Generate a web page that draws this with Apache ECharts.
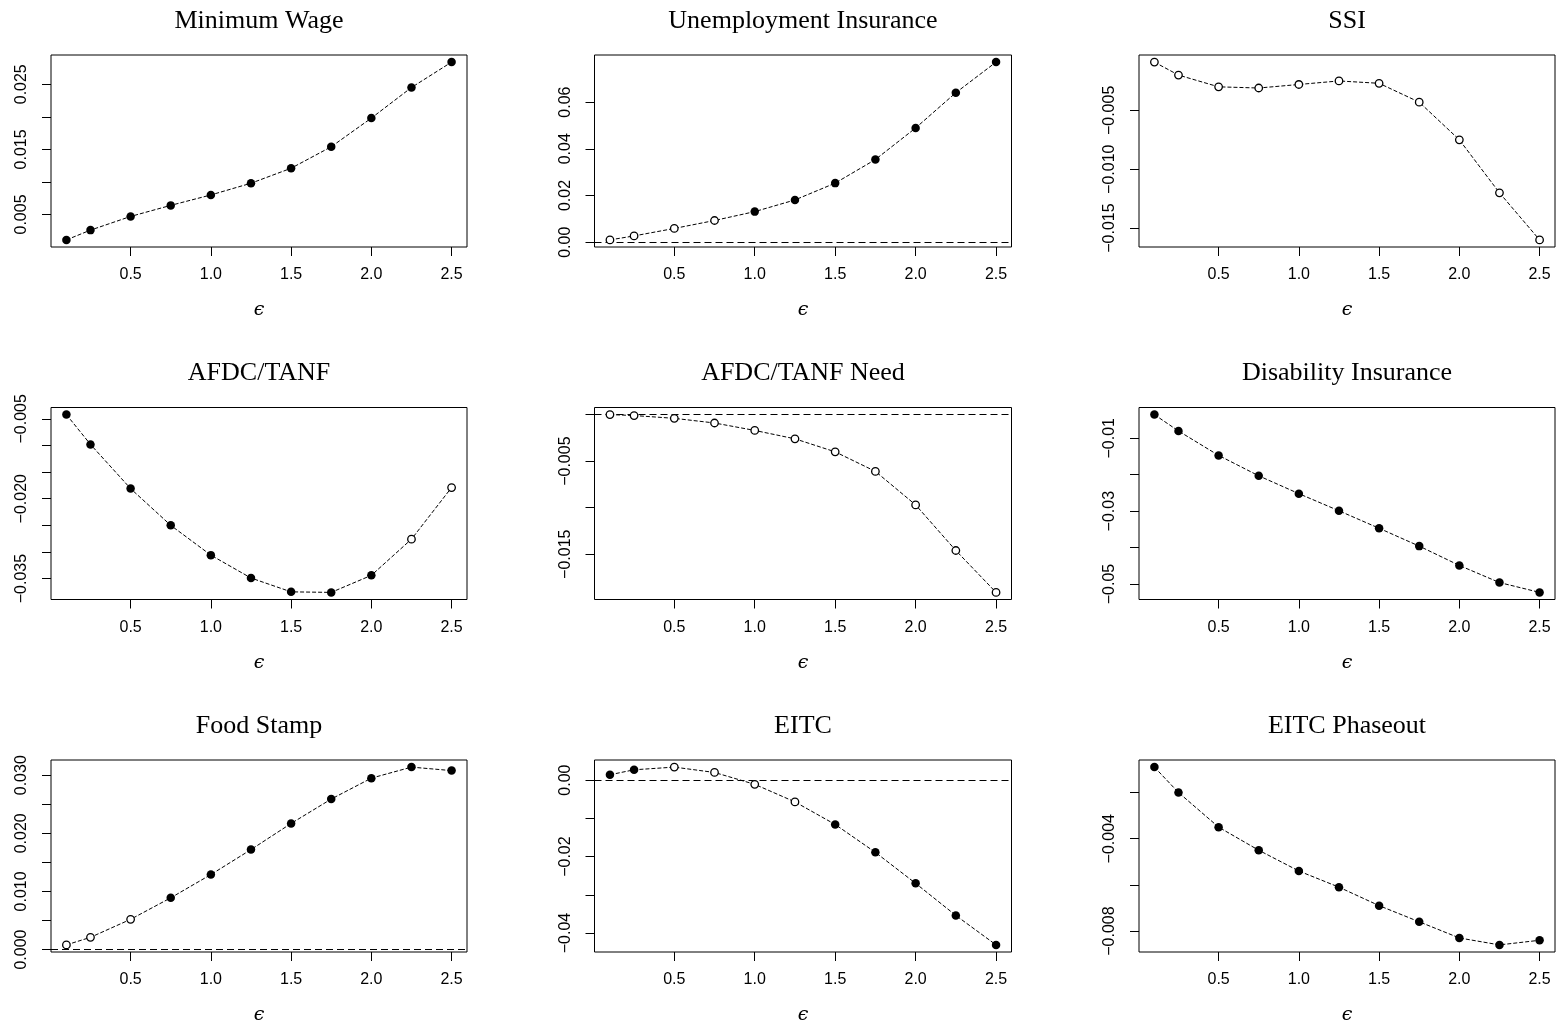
<!DOCTYPE html>
<html><head><meta charset="utf-8">
<script src="https://cdn.jsdelivr.net/npm/echarts@6/dist/echarts.min.js"></script>
<style>html,body{margin:0;padding:0;background:#fff}#c{width:1564px;height:1025px}</style>
</head><body><div id="c"></div>
<script>
// ---- data ----
const eps = [0.1, 0.25, 0.5, 0.75, 1.0, 1.25, 1.5, 1.75, 2.0, 2.25, 2.5];
const xTicks = [0.5, 1.0, 1.5, 2.0, 2.5];

const titles = ["Minimum Wage", "Unemployment Insurance", "SSI",
                "AFDC/TANF", "AFDC/TANF Need", "Disability Insurance",
                "Food Stamp", "EITC", "EITC Phaseout"];

const minWage      = [0.0011, 0.0026, 0.0047, 0.0064, 0.0080, 0.0098, 0.0121, 0.0154, 0.0198, 0.0245, 0.0284];
const unemployment = [0.0010, 0.0027, 0.0059, 0.0093, 0.0131, 0.0181, 0.0253, 0.0354, 0.0489, 0.0640, 0.0771];
const ssi          = [-0.0009, -0.0020, -0.0030, -0.0031, -0.0028, -0.0025, -0.0027, -0.0043, -0.0075, -0.0120, -0.0160];
const afdc         = [-0.0042, -0.0098, -0.0181, -0.0250, -0.0306, -0.0349, -0.0375, -0.0376, -0.0344, -0.0276, -0.0179];
const afdcNeed     = [0.0000, -0.0001, -0.0004, -0.0009, -0.0017, -0.0026, -0.0040, -0.0061, -0.0097, -0.0146, -0.0191];
const disability   = [-0.0035, -0.0080, -0.0147, -0.0203, -0.0252, -0.0299, -0.0347, -0.0396, -0.0449, -0.0496, -0.0523];
const foodStamp    = [0.0008, 0.0021, 0.0052, 0.0089, 0.0129, 0.0172, 0.0217, 0.0259, 0.0295, 0.0314, 0.0308];
const eitc         = [0.0014, 0.0027, 0.0034, 0.0020, -0.0011, -0.0057, -0.0116, -0.0189, -0.0270, -0.0354, -0.0431];
const eitcPhaseout = [-0.0009, -0.0020, -0.0035, -0.0045, -0.0054, -0.0061, -0.0069, -0.0076, -0.0083, -0.0086, -0.0084];

// 1 = filled point, 0 = open point
const minWageFilled      = [1,1,1,1,1,1,1,1,1,1,1];
const unemploymentFilled = [0,0,0,0,1,1,1,1,1,1,1];
const ssiFilled          = [0,0,0,0,0,0,0,0,0,0,0];
const afdcFilled         = [1,1,1,1,1,1,1,1,1,0,0];
const afdcNeedFilled     = [0,0,0,0,0,0,0,0,0,0,0];
const disabilityFilled   = [1,1,1,1,1,1,1,1,1,1,1];
const foodStampFilled    = [0,0,0,1,1,1,1,1,1,1,1];
const eitcFilled         = [1,1,0,0,0,0,1,1,1,1,1];
const eitcPhaseoutFilled = [1,1,1,1,1,1,1,1,1,1,1];

// y-axis ticks and the subset that carries labels
const minWageTicks      = [0.005, 0.010, 0.015, 0.020, 0.025];
const minWageLabels     = [0.005, 0.015, 0.025];
const unemploymentTicks = [0.00, 0.02, 0.04, 0.06];
const unemploymentLabels= [0.00, 0.02, 0.04, 0.06];
const ssiTicks          = [-0.015, -0.010, -0.005];
const ssiLabels         = [-0.015, -0.010, -0.005];
const afdcTicks         = [-0.035, -0.030, -0.025, -0.020, -0.015, -0.010, -0.005];
const afdcLabels        = [-0.035, -0.020, -0.005];
const afdcNeedTicks     = [-0.015, -0.010, -0.005, 0.000];
const afdcNeedLabels    = [-0.015, -0.005];
const disabilityTicks   = [-0.05, -0.04, -0.03, -0.02, -0.01];
const disabilityLabels  = [-0.05, -0.03, -0.01];
const foodStampTicks    = [0.000, 0.005, 0.010, 0.015, 0.020, 0.025, 0.030];
const foodStampLabels   = [0.000, 0.010, 0.020, 0.030];
const eitcTicks         = [-0.04, -0.03, -0.02, -0.01, 0.00];
const eitcLabels        = [-0.04, -0.02, 0.00];
const eitcPhaseoutTicks = [-0.008, -0.006, -0.004, -0.002];
const eitcPhaseoutLabels= [-0.008, -0.004];
const labelDigits = [3, 2, 3, 3, 3, 2, 3, 2, 3];
const zeroLine = [false, true, false, false, true, false, true, true, false];

const values = [minWage, unemployment, ssi, afdc, afdcNeed, disability, foodStamp, eitc, eitcPhaseout];
const filled = [minWageFilled, unemploymentFilled, ssiFilled, afdcFilled, afdcNeedFilled, disabilityFilled, foodStampFilled, eitcFilled, eitcPhaseoutFilled];
const yTicks = [minWageTicks, unemploymentTicks, ssiTicks, afdcTicks, afdcNeedTicks, disabilityTicks, foodStampTicks, eitcTicks, eitcPhaseoutTicks];
const yLabels = [minWageLabels, unemploymentLabels, ssiLabels, afdcLabels, afdcNeedLabels, disabilityLabels, foodStampLabels, eitcLabels, eitcPhaseoutLabels];

// ---- layout ----
const colLeft = [51, 594.5, 1139];
const colWidth = [416, 417, 416];
const rowTop = [55, 407.5, 760];
const plotH = 192;

function fmt(v, d) {
  const s = Math.abs(v).toFixed(d);
  return (v < -1e-12 ? '\u2212' : '') + s;
}
function rRange(arr) { // R default 4% extension
  const lo = Math.min(...arr), hi = Math.max(...arr);
  const pad = 0.04 * (hi - lo);
  return [lo - pad, hi + pad];
}
const xr = rRange(eps);

const grid = [], xAxis = [], yAxis = [], series = [], title = [];
for (let i = 0; i < 9; i++) {
  const r = Math.floor(i / 3), c = i % 3;
  grid.push({left: colLeft[c], top: rowTop[r], width: colWidth[c], height: plotH,
    show: true, borderColor: '#000', borderWidth: 1, backgroundColor: 'transparent',
    containLabel: false, outerBoundsMode: 'none'});
  title.push({text: titles[i], left: colLeft[c] + colWidth[c] / 2, top: rowTop[r] - 47,
    textAlign: 'center', padding: 0,
    textStyle: {fontFamily: 'Liberation Serif', fontSize: 26, fontWeight: 'normal', color: '#000'}});
  xAxis.push({type: 'value', gridIndex: i, min: xr[0], max: xr[1], position: 'bottom',
    splitLine: {show: false}, axisLine: {show: false, onZero: false},
    axisTick: {show: true, length: 9, customValues: xTicks, lineStyle: {color: '#000', width: 1}},
    axisLabel: {show: true, customValues: xTicks, margin: 20, color: '#000',
      fontFamily: 'Liberation Sans', fontSize: 16, formatter: v => v.toFixed(1)},
    name: '\u03F5', nameLocation: 'middle', nameGap: 54,
    nameTextStyle: {fontFamily: 'DejaVu Serif', fontStyle: 'italic', fontSize: 19, color: '#000'}});
  const yr = rRange(values[i]);
  const d = labelDigits[i];
  yAxis.push({type: 'value', gridIndex: i, min: yr[0], max: yr[1], position: 'left',
    splitLine: {show: false}, axisLine: {show: false, onZero: false},
    axisTick: {show: true, length: 9, customValues: yTicks[i], lineStyle: {color: '#000', width: 1}},
    axisLabel: {show: true, customValues: yLabels[i], rotate: 90, margin: 21, color: '#000',
      fontFamily: 'Liberation Sans', fontSize: 16, formatter: v => fmt(v, d)}});
  const data = eps.map((x, k) => {
    const f = filled[i][k] === 1;
    return {value: [x, values[i][k]],
      symbolSize: f ? 8.5 : 7.5,
      itemStyle: f ? {color: '#000', borderColor: '#000', borderWidth: 0}
                   : {color: '#fff', borderColor: '#000', borderWidth: 1.3}};
  });
  const s = {type: 'line', xAxisIndex: i, yAxisIndex: i, data: data,
    symbol: 'circle', showSymbol: true, showAllSymbol: true, animation: false, silent: true,
    lineStyle: {color: '#000', width: 1, type: [4, 2]}, z: 3};
  if (zeroLine[i]) {
    s.markLine = {silent: true, symbol: 'none', animation: false, z: 1,
      label: {show: false},
      lineStyle: {color: '#000', width: 1.2, type: [7, 4]},
      data: [{yAxis: 0}]};
  }
  series.push(s);
}

const chart = echarts.init(document.getElementById('c'), null, {renderer: 'canvas'});
chart.setOption({backgroundColor: '#fff', animation: false, title, grid, xAxis, yAxis, series});
</script>
</body></html>
